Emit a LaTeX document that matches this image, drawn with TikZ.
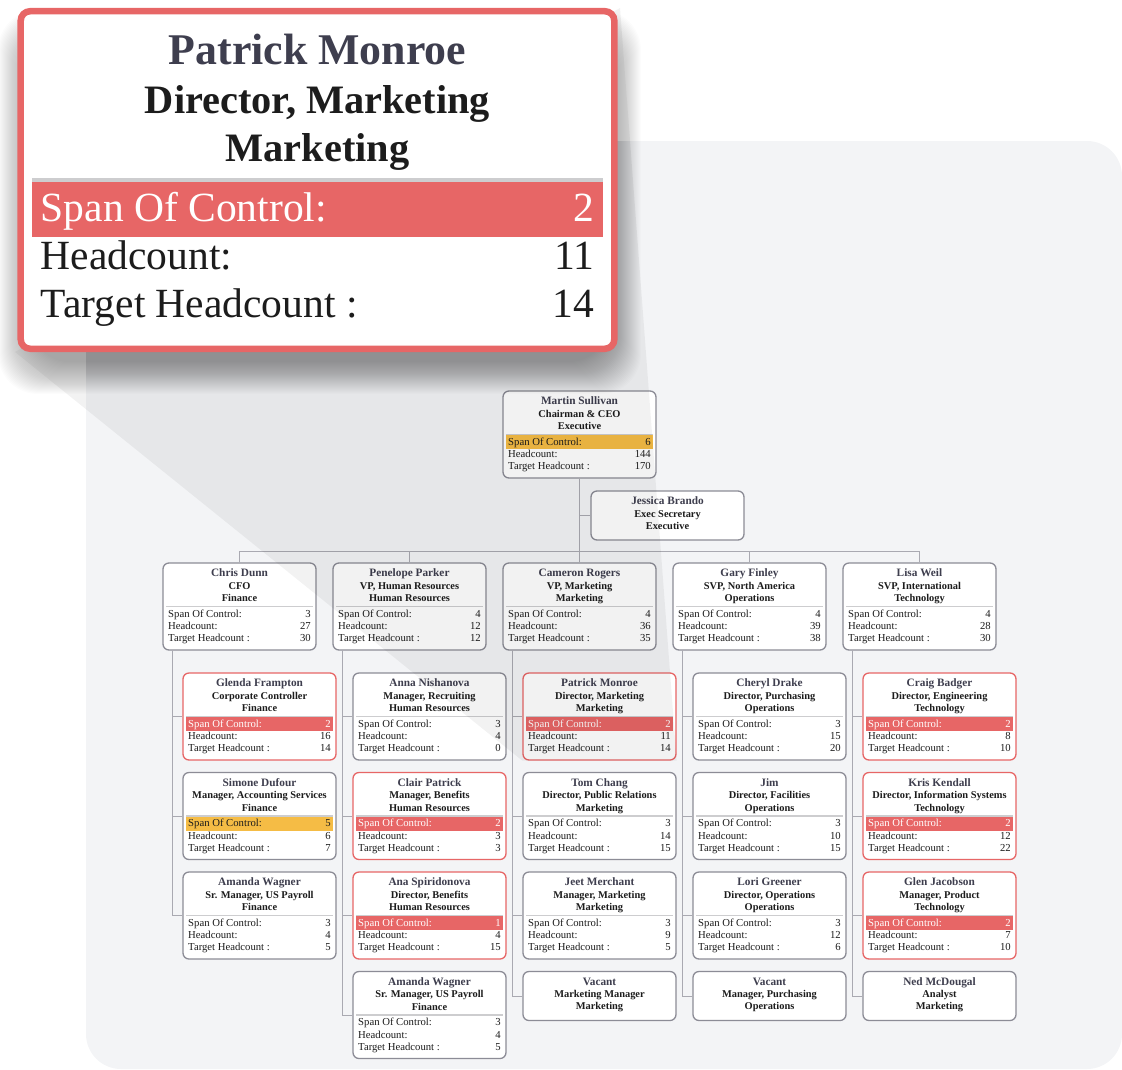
\documentclass[tikz,border=0pt]{standalone}
\usepackage{fontspec}
\setmainfont{Liberation Serif}
\usepackage{xcolor}
\usetikzlibrary{positioning, calc}

\definecolor{bggray}{HTML}{F3F4F6}
\definecolor{cardgray}{HTML}{8C8C96}
\definecolor{hotred}{HTML}{E76666}
\definecolor{warmorange}{HTML}{F5BC45}
\definecolor{namegray}{HTML}{3E3E4E}
\definecolor{linkgray}{HTML}{A9A9B1}
\definecolor{rulegray}{HTML}{CDCDCF}
\definecolor{inkblack}{HTML}{1C1C1C}

\tikzset{
    card/.style={
        rectangle,
        draw=cardgray,
        line width=1.3pt,
        rounded corners=6pt,
        fill=white,
        minimum width=153pt,
        minimum height=87pt,
        inner sep=0pt
    },
    hotcard/.style={
        card,
        draw=hotred
    },
    shortcard/.style={
        card,
        minimum height=49pt
    },
    nametext/.style={
        anchor=base,
        inner sep=0pt,
        text=namegray,
        font=\fontsize{11.3}{13}\selectfont\bfseries
    },
    titletext/.style={
        anchor=base,
        inner sep=0pt,
        text=inkblack,
        font=\fontsize{10.4}{12}\selectfont\bfseries
    },
    rowtext/.style={
        inner sep=0pt,
        text=inkblack,
        font=\fontsize{10.7}{12}\selectfont
    },
    ruleline/.style={
        rectangle,
        fill=rulegray,
        minimum width=147pt,
        minimum height=1.2pt,
        inner sep=0pt
    },
    hotbar/.style={
        rectangle,
        fill=hotred,
        minimum width=147pt,
        minimum height=14pt,
        inner sep=0pt
    },
    warmbar/.style={
        hotbar,
        fill=warmorange
    },
    nobar/.style={
        hotbar,
        fill=none
    },
    hotbar label/.style={text=white},
    warmbar label/.style={},
    nobar label/.style={},
    link/.style={
        draw=linkgray,
        line width=0.9pt
    }
}

% #1 name, #2 frame, #3 bar, #4 person, #5 title, #6 department, #7-#9 figures
\newcommand{\orgcard}[9]{%
    \node[#2] (#1) at (76.5,43.5) {};
    \node[nametext] (#1-name) at (76.5,13.8) {#4};
    \node[titletext] (#1-title) at (76.5,26.3) {#5};
    \node[titletext] (#1-dept) at (76.5,38.8) {#6};
    \node[ruleline] (#1-rule) at (76.5,43.5) {};
    \node[#3] (#1-bar) at (76.5,51.1) {};
    \node[rowtext, #3 label, anchor=base west] (#1-spanl) at (5,54.3) {Span Of Control:};
    \node[rowtext, #3 label, anchor=base east] (#1-spanv) at (148,54.3) {#7};
    \node[rowtext, anchor=base west] (#1-hcl) at (5,66.6) {Headcount:};
    \node[rowtext, anchor=base east] (#1-hcv) at (148,66.6) {#8};
    \node[rowtext, anchor=base west] (#1-thcl) at (5,78.9) {Target Headcount :};
    \node[rowtext, anchor=base east] (#1-thcv) at (148,78.9) {#9};
}
\newcommand{\slimcard}[4]{%
    \node[shortcard] (#1) at (76.5,24.5) {};
    \node[nametext] (#1-name) at (76.5,13.8) {#2};
    \node[titletext] (#1-title) at (76.5,26) {#3};
    \node[titletext] (#1-dept) at (76.5,38) {#4};
}

\begin{document}
\begin{tikzpicture}[x=1pt, y=-1pt]

\useasboundingbox (0,0) rectangle (1122,1069);
\fill[bggray, rounded corners=35pt] (86,141) rectangle (1122,1069);

% Top
\begin{scope}[shift={(503,391)}]\orgcard{martin}{card}{warmbar}{Martin Sullivan}{Chairman \& CEO}{Executive}{6}{144}{170}\end{scope}
\begin{scope}[shift={(591,491)}]\slimcard{jessica}{Jessica Brando}{Exec Secretary}{Executive}\end{scope}

% Second row
\begin{scope}[shift={(163,563)}]\orgcard{chris}{card}{nobar}{Chris Dunn}{CFO}{Finance}{3}{27}{30}\end{scope}
\begin{scope}[shift={(333,563)}]\orgcard{penelope}{card}{nobar}{Penelope Parker}{VP, Human Resources}{Human Resources}{4}{12}{12}\end{scope}
\begin{scope}[shift={(503,563)}]\orgcard{cameron}{card}{nobar}{Cameron Rogers}{VP, Marketing}{Marketing}{4}{36}{35}\end{scope}
\begin{scope}[shift={(673,563)}]\orgcard{gary}{card}{nobar}{Gary Finley}{SVP, North America}{Operations}{4}{39}{38}\end{scope}
\begin{scope}[shift={(843,563)}]\orgcard{lisa}{card}{nobar}{Lisa Weil}{SVP, International}{Technology}{4}{28}{30}\end{scope}

% Finance
\begin{scope}[shift={(183,673)}]\orgcard{glenda}{hotcard}{hotbar}{Glenda Frampton}{Corporate Controller}{Finance}{2}{16}{14}\end{scope}
\begin{scope}[shift={(183,772.5)}]\orgcard{simone}{card}{warmbar}{Simone Dufour}{Manager, Accounting Services}{Finance}{5}{6}{7}\end{scope}
\begin{scope}[shift={(183,872)}]\orgcard{amanda}{card}{nobar}{Amanda Wagner}{Sr. Manager, US Payroll}{Finance}{3}{4}{5}\end{scope}

% Human Resources
\begin{scope}[shift={(353,673)}]\orgcard{anna}{card}{nobar}{Anna Nishanova}{Manager, Recruiting}{Human Resources}{3}{4}{0}\end{scope}
\begin{scope}[shift={(353,772.5)}]\orgcard{clair}{hotcard}{hotbar}{Clair Patrick}{Manager, Benefits}{Human Resources}{2}{3}{3}\end{scope}
\begin{scope}[shift={(353,872)}]\orgcard{ana}{hotcard}{hotbar}{Ana Spiridonova}{Director, Benefits}{Human Resources}{1}{4}{15}\end{scope}
\begin{scope}[shift={(353,971.5)}]\orgcard{amandab}{card}{nobar}{Amanda Wagner}{Sr. Manager, US Payroll}{Finance}{3}{4}{5}\end{scope}

% Marketing
\begin{scope}[shift={(523,673)}]\orgcard{patrick}{hotcard}{hotbar}{Patrick Monroe}{Director, Marketing}{Marketing}{2}{11}{14}\end{scope}
\begin{scope}[shift={(523,772.5)}]\orgcard{tom}{card}{nobar}{Tom Chang}{Director, Public Relations}{Marketing}{3}{14}{15}\end{scope}
\begin{scope}[shift={(523,872)}]\orgcard{jeet}{card}{nobar}{Jeet Merchant}{Manager, Marketing}{Marketing}{3}{9}{5}\end{scope}
\begin{scope}[shift={(523,971.5)}]\slimcard{vacanta}{Vacant}{Marketing Manager}{Marketing}\end{scope}

% Operations
\begin{scope}[shift={(693,673)}]\orgcard{cheryl}{card}{nobar}{Cheryl Drake}{Director, Purchasing}{Operations}{3}{15}{20}\end{scope}
\begin{scope}[shift={(693,772.5)}]\orgcard{jim}{card}{nobar}{Jim}{Director, Facilities}{Operations}{3}{10}{15}\end{scope}
\begin{scope}[shift={(693,872)}]\orgcard{lori}{card}{nobar}{Lori Greener}{Director, Operations}{Operations}{3}{12}{6}\end{scope}
\begin{scope}[shift={(693,971.5)}]\slimcard{vacantb}{Vacant}{Manager, Purchasing}{Operations}\end{scope}

% Technology
\begin{scope}[shift={(863,673)}]\orgcard{craig}{hotcard}{hotbar}{Craig Badger}{Director, Engineering}{Technology}{2}{8}{10}\end{scope}
\begin{scope}[shift={(863,772.5)}]\orgcard{kris}{hotcard}{hotbar}{Kris Kendall}{Director, Information Systems}{Technology}{2}{12}{22}\end{scope}
\begin{scope}[shift={(863,872)}]\orgcard{glen}{hotcard}{hotbar}{Glen Jacobson}{Manager, Product}{Technology}{2}{7}{10}\end{scope}
\begin{scope}[shift={(863,971.5)}]\slimcard{ned}{Ned McDougal}{Analyst}{Marketing}\end{scope}

% Links
\coordinate (bus) at (579.5,551);
\draw[link] (martin.south) -- (cameron.north);
\draw[link] (martin.south) |- (jessica.west);
\draw[link] (chris.north) |- (bus) -| (lisa.north);
\draw[link] (penelope.north) -- (penelope.north |- bus);
\draw[link] (gary.north) -- (gary.north |- bus);

\draw[link] ($(chris.south west)+(10,0)$) |- (glenda.west);
\draw[link] ($(chris.south west)+(10,0)$) |- (simone.west);
\draw[link] ($(chris.south west)+(10,0)$) |- (amanda.west);
\draw[link] ($(penelope.south west)+(10,0)$) |- (anna.west);
\draw[link] ($(penelope.south west)+(10,0)$) |- (clair.west);
\draw[link] ($(penelope.south west)+(10,0)$) |- (ana.west);
\draw[link] ($(penelope.south west)+(10,0)$) |- (amandab.west);
\draw[link] ($(cameron.south west)+(10,0)$) |- (patrick.west);
\draw[link] ($(cameron.south west)+(10,0)$) |- (tom.west);
\draw[link] ($(cameron.south west)+(10,0)$) |- (jeet.west);
\draw[link] ($(cameron.south west)+(10,0)$) |- (vacanta.west);
\draw[link] ($(gary.south west)+(10,0)$) |- (cheryl.west);
\draw[link] ($(gary.south west)+(10,0)$) |- (jim.west);
\draw[link] ($(gary.south west)+(10,0)$) |- (lori.west);
\draw[link] ($(gary.south west)+(10,0)$) |- (vacantb.west);
\draw[link] ($(lisa.south west)+(10,0)$) |- (craig.west);
\draw[link] ($(lisa.south west)+(10,0)$) |- (kris.west);
\draw[link] ($(lisa.south west)+(10,0)$) |- (glen.west);
\draw[link] ($(lisa.south west)+(10,0)$) |- (ned.west);

% Magnifier
\coordinate (zoomsw) at (15,352);
\coordinate (zoomne) at (620,8);
\fill[black, fill opacity=0.05] (zoomsw) -- (patrick.south west) -- (patrick.south east) -- (zoomne) -- cycle;
\foreach \s in {-10,...,22}
    \fill[black, fill opacity=0.01, rounded corners=40pt] (20-\s,32-\s) rectangle (619+\s,372+\s);

\begin{scope}[shift={(20.7,11.2)}, scale=3.88, transform shape, card/.append style={line width=6.5pt, rounded corners=9.5pt}]
\orgcard{zoom}{hotcard}{hotbar}{Patrick Monroe}{Director, Marketing}{Marketing}{2}{11}{14}
\end{scope}

\end{tikzpicture}
\end{document}
